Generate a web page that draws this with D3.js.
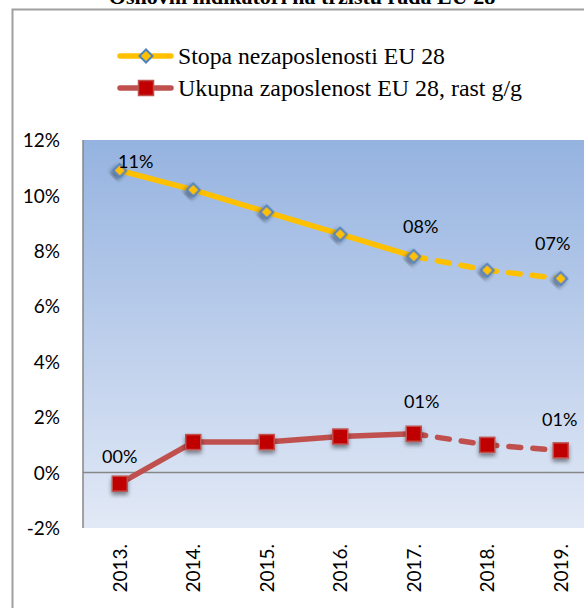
<!DOCTYPE html>
<html>
<head>
<meta charset="utf-8">
<script src="https://cdn.jsdelivr.net/npm/d3@7/dist/d3.min.js"></script>
<style>
html,body{margin:0;padding:0;background:#fff;}
svg{display:block;}
</style>
</head>
<body>
<svg id="chart" width="584" height="608"></svg>
<script>
const title = "Osnovni indikatori na tržištu rada EU 28";
const years = ["2013.", "2014.", "2015.", "2016.", "2017.", "2018.", "2019."];
const unemployment = [10.9, 10.2, 9.4, 8.6, 7.8, 7.3, 7.0];
const employmentGrowth = [-0.4, 1.1, 1.1, 1.3, 1.4, 1.0, 0.8];
const unemploymentLabels = ["11%", null, null, null, "08%", null, "07%"];
const employmentLabels = ["00%", null, null, null, "01%", null, "01%"];
const yTicks = [-2, 0, 2, 4, 6, 8, 10, 12];
const yTickLabels = ["-2%", "0%", "2%", "4%", "6%", "8%", "10%", "12%"];
const seriesNames = ["Stopa nezaposlenosti EU 28", "Ukupna zaposlenost EU 28, rast g/g"];
const forecastFrom = 4;

const svg = d3.select("#chart");
const plot = {left: 83, top: 140, bottom: 528, band: 73.5};
const x = d3.scaleBand().domain(years).range([plot.left, plot.left + plot.band * years.length]).paddingInner(0).paddingOuter(0);
const y = d3.scaleLinear().domain([-2, 12]).range([plot.bottom, plot.top]);
const cx = d => x(d) + x.bandwidth() / 2;

const defs = svg.append("defs");
const grad = defs.append("linearGradient").attr("id", "bg").attr("x1", 0).attr("y1", 0).attr("x2", 0).attr("y2", 1);
grad.append("stop").attr("offset", "0%").attr("stop-color", "#95b3e0");
grad.append("stop").attr("offset", "100%").attr("stop-color", "#e2e9f6");
const sh = defs.append("filter").attr("id", "shadow").attr("x", "-50%").attr("y", "-50%").attr("width", "200%").attr("height", "200%");
sh.append("feDropShadow").attr("dx", 0).attr("dy", 3).attr("stdDeviation", 2).attr("flood-color", "#000").attr("flood-opacity", 0.45);

// title (cropped at top, as in the reference)
svg.append("text").attr("x", 302).attr("y", 4).attr("text-anchor", "middle")
  .attr("font-family", "Liberation Serif, Times New Roman, serif").attr("font-weight", "bold")
  .attr("font-size", 22).attr("fill", "#000").text(title);

// outer frame
svg.append("rect").attr("x", 12.5).attr("y", 9.5).attr("width", 700).attr("height", 700)
  .attr("fill", "#fff").attr("stroke", "#a0a0a0").attr("stroke-width", 2);

// plot background
const [x0, x1] = x.range();
svg.append("rect").attr("x", x0).attr("y", plot.top).attr("width", x1 - x0).attr("height", plot.bottom - plot.top)
  .attr("fill", "url(#bg)");

// y axis
const yAxis = d3.axisLeft(y).tickValues(yTicks).tickFormat((d, i) => yTickLabels[i]).tickSize(0).tickPadding(0);
const yg = svg.append("g").attr("transform", `translate(60,0)`).call(yAxis);
yg.select(".domain").remove();
yg.selectAll("text").attr("font-family", "Lato, Open Sans, sans-serif").attr("font-size", 19).attr("fill", "#000").attr("dy", "0.35em");

svg.append("line").attr("x1", x0).attr("x2", x0).attr("y1", plot.top).attr("y2", plot.bottom)
  .attr("stroke", "#868686").attr("stroke-width", 1.5);
svg.append("line").attr("x1", x0).attr("x2", x1).attr("y1", y(0)).attr("y2", y(0))
  .attr("stroke", "#868686").attr("stroke-width", 1.5);

// x axis labels
const xAxis = d3.axisBottom(x).tickSize(0).tickPadding(0);
const xg = svg.append("g").attr("transform", `translate(0,${plot.bottom})`).call(xAxis);
xg.select(".domain").remove();
xg.selectAll("text").attr("font-family", "Lato, Open Sans, sans-serif").attr("font-size", 19).attr("fill", "#000")
  .attr("text-anchor", "end").attr("dy", null).attr("y", 0)
  .attr("transform", "translate(7,16) rotate(-90)");

// lines
const line = d3.line().x(d => cx(d.year)).y(d => y(d.v));
function drawSeries(vals, color, width) {
  const pts = vals.map((v, i) => ({year: years[i], v}));
  svg.append("path").datum(pts.slice(0, forecastFrom + 1)).attr("d", line)
    .attr("fill", "none").attr("stroke", color).attr("stroke-width", width).attr("stroke-linejoin", "round").attr("stroke-linecap", "round");
  svg.append("path").datum(pts.slice(forecastFrom)).attr("d", line)
    .attr("fill", "none").attr("stroke", color).attr("stroke-width", width).attr("stroke-dasharray", "12,12").attr("stroke-linecap", "round");
  return pts;
}
const uPts = drawSeries(unemployment, "#ffc000", 5.5);
const ePts = drawSeries(employmentGrowth, "#c0504d", 5.5);

// markers
svg.append("g").selectAll("path").data(uPts).join("path")
  .attr("d", d3.symbol().type(d3.symbolSquare).size(84))
  .attr("transform", d => `translate(${cx(d.year)},${y(d.v)}) rotate(45)`)
  .attr("fill", "#ffc000").attr("stroke", "#4f81bd").attr("stroke-width", 2).attr("filter", "url(#shadow)");
svg.append("g").selectAll("rect").data(ePts).join("rect")
  .attr("x", d => cx(d.year) - 7.5).attr("y", d => y(d.v) - 7.5).attr("width", 15).attr("height", 15)
  .attr("fill", "#c00000").attr("stroke", "#c0504d").attr("stroke-width", 1.5).attr("filter", "url(#shadow)");

// data labels
const uOff = [[16, -2], null, null, null, [7, -23], null, [-8, -29]];
const eOff = [[0, -21], null, null, null, [8, -26], null, [-1, -24]];
function drawLabels(vals, labels, off) {
  svg.append("g").selectAll("text").data(vals.map((v, i) => ({v, i, t: labels[i]})).filter(d => d.t))
    .join("text")
    .attr("x", d => cx(years[d.i]) + off[d.i][0]).attr("y", d => y(d.v) + off[d.i][1])
    .attr("text-anchor", "middle").attr("font-family", "Lato, Open Sans, sans-serif").attr("font-size", 18).attr("fill", "#000")
    .text(d => d.t);
}
drawLabels(unemployment, unemploymentLabels, uOff);
drawLabels(employmentGrowth, employmentLabels, eOff);

// legend
const legend = svg.append("g");
const legendColors = [["#ffc000", "diamond"], ["#c0504d", "square"]];
const legendTextLen = [267, 344];
seriesNames.forEach((name, i) => {
  const ly = 56 + i * 32;
  legend.append("line").attr("x1", 120).attr("x2", 171).attr("y1", ly).attr("y2", ly)
    .attr("stroke", legendColors[i][0]).attr("stroke-width", 5.5).attr("stroke-linecap", "round");
  if (legendColors[i][1] === "diamond") {
    legend.append("path").attr("d", d3.symbol().type(d3.symbolSquare).size(84))
      .attr("transform", `translate(146,${ly}) rotate(45)`)
      .attr("fill", "#ffc000").attr("stroke", "#4f81bd").attr("stroke-width", 2);
  } else {
    legend.append("rect").attr("x", 138.5).attr("y", ly - 7.5).attr("width", 15).attr("height", 15)
      .attr("fill", "#c00000").attr("stroke", "#c0504d").attr("stroke-width", 1.5);
  }
  legend.append("text").attr("x", 178).attr("y", ly + 8)
    .attr("font-family", "Liberation Serif, Times New Roman, serif").attr("font-size", 23).attr("fill", "#000")
    .attr("textLength", legendTextLen[i]).attr("lengthAdjust", "spacingAndGlyphs")
    .text(name);
});
</script>
</body>
</html>
